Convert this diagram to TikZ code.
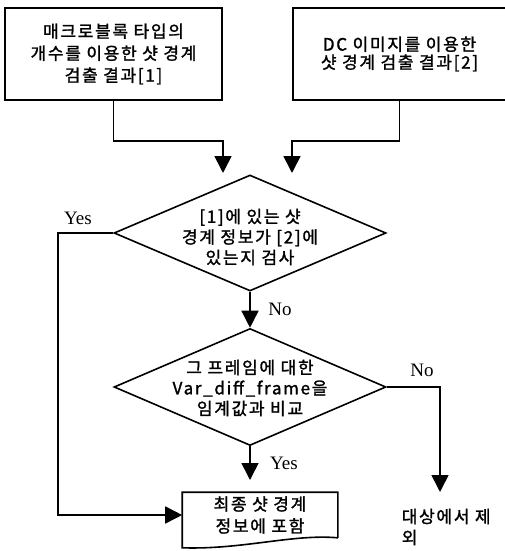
\documentclass[tikz,border=0pt]{standalone}
\usepackage{fontspec}
\setmainfont{Liberation Serif}
\newfontfamily\kr[LetterSpace=10,FakeBold=1.5]{Noto Sans CJK KR}
\usetikzlibrary{shapes.geometric,arrows.meta}

\begin{document}
\begin{tikzpicture}[x=1pt,y=-1pt,line width=1.6pt,
  result/.style={draw,minimum width=217pt,minimum height=92pt,inner sep=0pt,align=center,
    font=\kr\fontsize{17}{22}\selectfont},
  decision/.style={draw,diamond,inner sep=0pt,minimum width=272pt,minimum height=116pt},
  query/.style={align=center,inner sep=0pt,font=\kr\fontsize{17}{20.5}\selectfont},
  lbl/.style={font=\fontsize{19}{19}\selectfont,inner sep=0pt},
  flow/.style={-{Triangle[length=17pt,width=17pt]}}]

\useasboundingbox (0,0) rectangle (505,551);

% two inputs
\node [result] (box1) at (113.5,54) {매크로블록 타입의\\개수를 이용한 샷 경계\\검출 결과[1]};
\node [result,minimum width=213pt,font=\kr\fontsize{17}{18}\selectfont] (box2) at (399.5,54)
  {DC 이미지를 이용한\\샷 경계 검출 결과[2]};

% decisions
\node [decision] (check) at (250,233) {};
\node [query] (checktxt) at (250,237) {[1]에 있는 샷\\경계 정보가 [2]에\\있는지 검사};
\node [decision,minimum height=117pt] (compare) at (250,387) {};
\node [query] (comparetxt) at (250,388) {그 프레임에 대한\\Var\_diff\_frame을\\임계값과 비교};

% outputs
\node [minimum width=154pt,minimum height=44pt,inner sep=0pt,align=center,
  font=\kr\fontsize{17}{22}\selectfont] (final) at (260,515) {최종 샷 경계\\정보에 포함};
\draw (final.south east) -- (final.north east) -- (final.north west) -- ([yshift=-10pt]final.south west)
  .. controls +(60,2) and +(-45,-4) .. (final.south east) ;
\node [anchor=north west,align=left,inner sep=0pt,font=\kr\fontsize{17}{21}\selectfont] (drop) at (401,508)
  {대상에서 제\\외};

\coordinate (in1) at (223,173) ;
\coordinate (in2) at (292,173) ;
\coordinate (in3) at (250,480) ;
\coordinate (out) at (440,492) ;

\draw [flow] (box1.south) -- ++(0,40) -| (in1) ;
\draw [flow] (box2.south) -- ++(0,40) -| (in2) ;
\draw [flow] (check.south) -- (compare.north) ;
\draw [flow] (check.west) -- ++(-55,0) |- (final.west) ;
\draw [flow] (compare.south) -- (in3) ;
\draw [flow] (compare.east) -| (out) ;

\node [lbl] (yes1) at (78,218) {Yes} ;
\node [lbl] (no1) at (280,309) {No} ;
\node [lbl] (no2) at (422,370) {No} ;
\node [lbl] (yes2) at (284,463) {Yes} ;

\end{tikzpicture}
\end{document}
